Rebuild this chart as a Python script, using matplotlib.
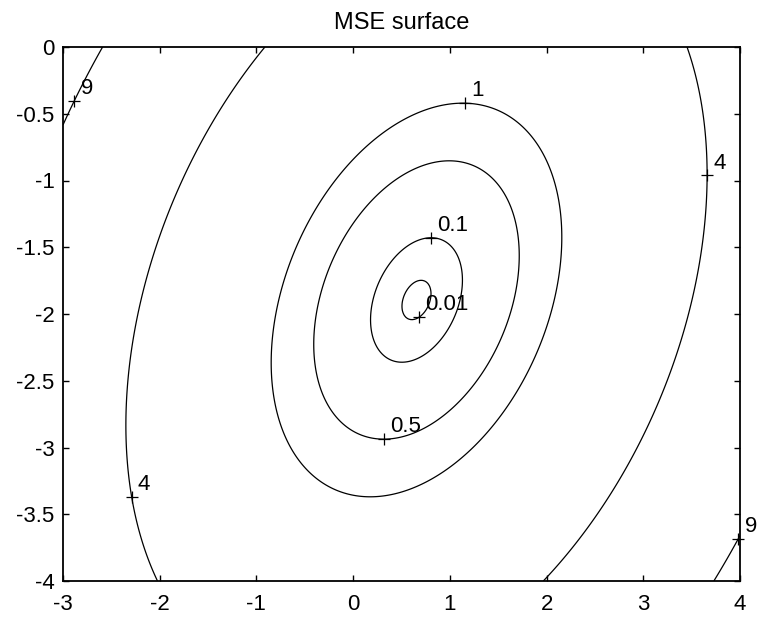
import numpy as np
import matplotlib
matplotlib.use("Agg")
import matplotlib.pyplot as plt

plt.rcParams['font.family'] = ['Liberation Sans', 'DejaVu Sans']

# ---- data ----
title = "MSE surface"
w_opt = [0.655, -1.895]                 # location of the minimum
R = [[0.493, -0.16], [-0.16, 0.512]]    # quadratic form of the MSE surface
J_min = 0.0
levels = [0.01, 0.1, 0.5, 1, 4, 9]

label_levels = [9, 1, 4, 0.1, 0.01, 0.5, 4, 9]
label_text = ["9", "1", "4", "0.1", "0.01", "0.5", "4", "9"]
label_x = [-2.886, 1.15, 3.63, 0.80, 0.678, 0.32, -2.255, 3.97]
label_y = [-0.398, -0.415, -0.963, -1.435, -2.015, -2.945, -3.363, -3.68]

xticks = [-3, -2, -1, 0, 1, 2, 3, 4]
xtick_labels = ["-3", "-2", "-1", "0", "1", "2", "3", "4"]
yticks = [0, -0.5, -1, -1.5, -2, -2.5, -3, -3.5, -4]
ytick_labels = ["0", "-0.5", "-1", "-1.5", "-2", "-2.5", "-3", "-3.5", "-4"]
xlim = (-3, 4)
ylim = (-4, 0)

# ---- surface ----
x = np.linspace(xlim[0], xlim[1], 400)
y = np.linspace(ylim[0], ylim[1], 400)
X, Y = np.meshgrid(x, y)
dX = X - w_opt[0]
dY = Y - w_opt[1]
J = J_min + R[0][0] * dX**2 + 2 * R[0][1] * dX * dY + R[1][1] * dY**2

W, H = 758, 620
fig = plt.figure(figsize=(W / 100, H / 100), dpi=100)
ax = fig.add_axes([63 / W, 1 - 581 / H, (740 - 63) / W, (581 - 47) / H])

cs = ax.contour(X, Y, J, levels=levels, colors="k", linewidths=0.9)

ax.set_xlim(*xlim)
ax.set_ylim(*ylim)

# MATLAB-style labels: '+' on the contour, text up-right
for lev, txt, x0, y0 in zip(label_levels, label_text, label_x, label_y):
    i = levels.index(lev)
    segs = [s for s in cs.allsegs[i] if len(s)]
    pts = np.vstack(segs)
    disp = ax.transData.transform(pts)
    d0 = ax.transData.transform((x0, y0))
    k = np.argmin(np.hypot(disp[:, 0] - d0[0], disp[:, 1] - d0[1]))
    px, py = pts[k]
    ax.plot([px], [py], marker="+", color="k", markersize=8, markeredgewidth=0.9,
            linestyle="none", clip_on=False)
    ax.annotate(txt, (px, py), xytext=(4.5, 5), textcoords="offset points",
                ha="left", va="baseline", fontsize=16, color="k",
                annotation_clip=False)

ax.set_xticks(xticks)
ax.set_xticklabels(xtick_labels)
ax.set_yticks(yticks)
ax.set_yticklabels(ytick_labels)
ax.tick_params(direction="in", length=4, width=1.0, top=True, right=True,
               labelsize=16, colors="k")
ax.tick_params(axis="x", pad=9)
ax.tick_params(axis="y", pad=6)
for sp in ax.spines.values():
    sp.set_linewidth(1.3)
    sp.set_color("k")

ax.set_title(title, fontsize=17, pad=13)

fig.savefig("out.png", dpi=100)
